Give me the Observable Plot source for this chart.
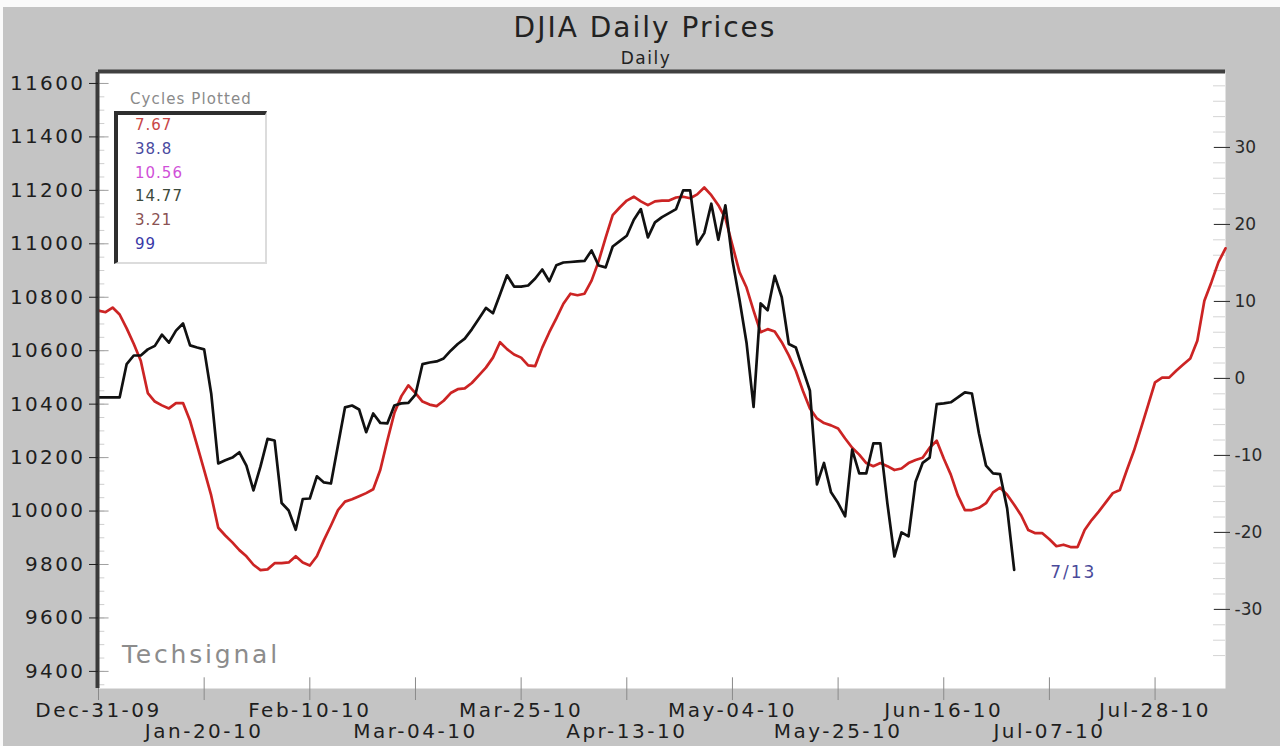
<!DOCTYPE html>
<html>
<head>
<meta charset="utf-8">
<script src="https://cdn.jsdelivr.net/npm/d3@7"></script>
<script src="https://cdn.jsdelivr.net/npm/@observablehq/plot@0.6"></script>
<style>
  html, body { margin: 0; padding: 0; background: #c4c4c4; }
  #wrap { position: relative; width: 1280px; height: 746px; background: #c4c4c4; overflow: hidden;
          font-family: "DejaVu Sans", Verdana, sans-serif; }
  #topstrip { position: absolute; left: 0; top: 0; width: 1280px; height: 7px; background: #fafafa; }
  #leftstrip { position: absolute; left: 0; top: 0; width: 3px; height: 746px; background: #fafafa; }
  #chart { position: absolute; left: 0; top: 0; }
  .abs { position: absolute; white-space: nowrap; }
  #title { left: 0; width: 1290px; top: 11px; text-align: center; font-size: 28px; line-height: 34px; color: #222; letter-spacing: 2px; }
  #sub { left: 0; width: 1292px; top: 48px; text-align: center; font-size: 17px; line-height: 20px; color: #222; letter-spacing: 1.5px; }
  #legTitle { left: 130px; top: 90px; font-size: 15px; line-height: 18px; color: #8a8a8a; letter-spacing: 1.1px; }
  #legBox { left: 114px; top: 111px; width: 147px; height: 147px; background: #fff;
            border-top: 4px solid #2e2e2e; border-left: 4px solid #2e2e2e;
            border-right: 2px solid #dcdcdc; border-bottom: 2px solid #dcdcdc; }
  .legItem { font-size: 15px; line-height: 20px; letter-spacing: 1px; }
  #brand { left: 122px; top: 640px; font-size: 25px; line-height: 30px; color: #8c8c8c; letter-spacing: 2.8px; }
</style>
</head>
<body>
<div id="wrap">
  <div id="topstrip"></div>
  <div id="leftstrip"></div>
  <div id="chart"></div>
  <div id="title" class="abs">DJIA Daily Prices</div>
  <div id="sub" class="abs">Daily</div>
  <div id="legTitle" class="abs">Cycles Plotted</div>
  <div id="legBox" class="abs"></div>
  <div id="brand" class="abs">Techsignal</div>
</div>
<script>
// ---------------- data ----------------
// DJIA daily closes, one per trading bar (bar 0 = Dec-31-09)
const blackPrices = [
  10425,10425,10425,10425,10550,10582,10582,10605,10618,10660,
  10630,10675,10702,10620,10612,10605,10440,10178,10190,10200,
  10220,10170,10077,10167,10270,10264,10030,10002,9930,10045,
  10047,10130,10107,10103,10246,10388,10395,10380,10295,10365,
  10330,10328,10395,10403,10405,10436,10550,10556,10560,10571,
  10600,10625,10645,10680,10720,10760,10740,10810,10882,10840,
  10840,10844,10870,10904,10860,10920,10930,10932,10934,10936,
  10975,10919,10912,10990,11010,11030,11090,11130,11024,11080,
  11100,11115,11130,11200,11200,10998,11040,11150,11015,11144,
  10938,10792,10630,10390,10777,10751,10880,10800,10625,10612,
  10530,10450,10100,10180,10070,10030,9980,10230,10141,10141,
  10253,10253,10028,9830,9920,9905,10110,10180,10200,10400,
  10403,10407,10425,10444,10440,10290,10170,10141,10138,10010,
  9780
];
// Composite cycle projection (right-hand scale), one per bar
const redCycle = [
  8.8,8.6,9.2,8.3,6.5,4.5,2.3,-1.9,-3.0,-3.5,
  -3.9,-3.2,-3.2,-5.5,-8.7,-11.9,-15.2,-19.4,-20.4,-21.3,
  -22.3,-23.1,-24.2,-24.9,-24.8,-24.0,-24.0,-23.9,-23.1,-23.9,
  -24.3,-23.1,-21.0,-19.1,-17.1,-16.0,-15.7,-15.3,-14.9,-14.4,
  -11.9,-8.1,-4.5,-2.3,-0.9,-1.9,-3.0,-3.4,-3.6,-2.9,
  -1.9,-1.4,-1.3,-0.6,0.4,1.4,2.7,4.7,3.8,3.1,
  2.7,1.7,1.6,4.0,6.0,7.8,9.7,11.0,10.8,11.0,
  12.7,15.2,18.3,21.2,22.2,23.1,23.6,23.0,22.5,23.0,
  23.1,23.1,23.5,23.6,23.4,23.9,24.8,23.8,22.5,20.8,
  17.3,13.8,11.8,8.8,6.0,6.4,6.1,4.7,3.0,1.0,
  -1.6,-3.9,-5.2,-5.8,-6.1,-6.5,-7.8,-9.0,-9.9,-11.0,
  -11.4,-11.0,-11.4,-11.9,-11.7,-11.0,-10.6,-10.3,-9.0,-8.1,
  -10.4,-12.5,-15.2,-17.1,-17.1,-16.8,-16.2,-14.8,-14.2,-15.1,
  -16.4,-17.8,-19.7,-20.1,-20.1,-20.9,-21.8,-21.6,-21.9,-21.9,
  -19.7,-18.4,-17.3,-16.1,-14.9,-14.5,-11.9,-9.4,-6.5,-3.5,
  -0.5,0.1,0.1,1.0,1.8,2.6,4.9,10.1,12.5,15.1,
  16.9
];
const xTickBars = [0,15,30,45,60,75,90,105,120,135,150];
const xTickLabels = ["Dec-31-09","Jan-20-10","Feb-10-10","Mar-04-10","Mar-25-10","Apr-13-10",
                     "May-04-10","May-25-10","Jun-16-10","Jul-07-10","Jul-28-10"];
const leftTicks = [9400,9600,9800,10000,10200,10400,10600,10800,11000,11200,11400,11600];
const rightTicks = [-30,-20,-10,0,10,20,30];
const cycleLabels = ["7.67","38.8","10.56","14.77","3.21","99"];
const cycleColors = ["#c84848","#4a4aa0","#d050d8","#3c4a3c","#8a5252","#3838a8"];
const lastLabel = "7/13";

// ---------------- scales ----------------
const xDomain = [0, 160];
const yDomain = [9336, 11641];
// right-hand (cycle) scale expressed in price units
const cycleZero = 10496.3, cycleUnit = 28.81;
const toPrice = r => cycleZero + cycleUnit * r;
const fromPrice = p => (p - cycleZero) / cycleUnit;

const leftMinor = d3.range(9350, 11641, 50);
const rightMinor = d3.range(-36, 40, 2).filter(v => toPrice(v) > yDomain[0] && toPrice(v) < yDomain[1]);
const evenTicks = xTickBars.filter((d, i) => i % 2 === 0);
const oddTicks = xTickBars.filter((d, i) => i % 2 === 1);
const lastBar = blackPrices.length - 1;

const chart = Plot.plot({
  width: 1280,
  height: 746,
  marginLeft: 98,
  marginRight: 55,
  marginTop: 72,
  marginBottom: 58,
  x: {domain: xDomain, axis: null},
  y: {domain: yDomain, axis: null},
  style: {background: "transparent", fontFamily: "DejaVu Sans, Verdana, sans-serif", overflow: "visible"},
  marks: [
    Plot.frame({fill: "white", stroke: "none"}),
    // inner minor / major ticks along left edge
    Plot.ruleY(leftMinor, {x1: xDomain[0], x2: xDomain[0] + 0.9, stroke: "#cfcfcf"}),
    Plot.ruleY(leftTicks, {x1: xDomain[0], x2: xDomain[0] + 1.5, stroke: "#a0a0a0"}),
    // inner minor ticks along right edge
    Plot.ruleY(rightMinor.map(toPrice), {x1: xDomain[1] - 1.7, x2: xDomain[1], stroke: "#d4d4d4"}),
    // bottom tick marks
    Plot.ruleX(xTickBars, {y1: yDomain[0] + 40, y2: yDomain[0] - 45, stroke: "#8a8a8a"}),
    // series
    Plot.line(redCycle, {x: (d, i) => i, y: d => toPrice(d), stroke: "#cc2424", strokeWidth: 2.7}),
    Plot.line(blackPrices, {x: (d, i) => i, y: d => d, stroke: "#111", strokeWidth: 2.7}),
    // frame edges
    Plot.ruleX([xDomain[0]], {stroke: "#3a3a3a", strokeWidth: 4, dx: -1}),
    Plot.ruleY([yDomain[1]], {stroke: "#404040", strokeWidth: 4, dy: -1}),
    // left axis
    Plot.axisY(leftTicks, {anchor: "left", tickSize: 9, tickPadding: 4, fontSize: 20, color: "#1e1e1e",
      tickFormat: d => String(d)}),
    // right axis (cycle units)
    Plot.axisY(rightTicks.map(toPrice), {anchor: "right", tickSize: 16, tickPadding: 5, dx: -12,
      fontSize: 17, color: "#2a2a2a", tickFormat: p => String(Math.round(fromPrice(p)))}),
    // bottom labels (two staggered rows)
    Plot.text(evenTicks, {x: d => d, text: d => xTickLabels[xTickBars.indexOf(d)], frameAnchor: "bottom",
      dy: 28, fontSize: 20, fill: "#1e1e1e"}),
    Plot.text(oddTicks, {x: d => d, text: d => xTickLabels[xTickBars.indexOf(d)], frameAnchor: "bottom",
      dy: 49, fontSize: 20, fill: "#1e1e1e"}),
    // last-date annotation
    Plot.text([lastBar], {x: d => d, y: d => blackPrices[d], text: () => lastLabel, dx: 36, dy: 3,
      textAnchor: "start", fontSize: 17, fill: "#4a4a9a"})
  ]
});
document.getElementById("chart").appendChild(chart);

// letter spacing to match the wide source lettering
chart.querySelectorAll('g[aria-label="y-axis tick label"]').forEach(g => {
  if (g.getAttribute("text-anchor") === "end") g.style.letterSpacing = "2.4px";
});
chart.querySelectorAll('g[aria-label="text"]').forEach(g => {
  if (g.getAttribute("font-size") === "20") g.style.letterSpacing = "2.5px";
  if (g.getAttribute("font-size") === "17") g.style.letterSpacing = "2px";
});

// legend entries
const wrap = document.getElementById("wrap");
cycleLabels.forEach((lab, i) => {
  const el = document.createElement("div");
  el.className = "abs legItem";
  el.textContent = lab;
  el.style.left = "135px";
  el.style.top = (115 + i * 23.8) + "px";
  el.style.color = cycleColors[i];
  wrap.appendChild(el);
});
</script>
</body>
</html>
